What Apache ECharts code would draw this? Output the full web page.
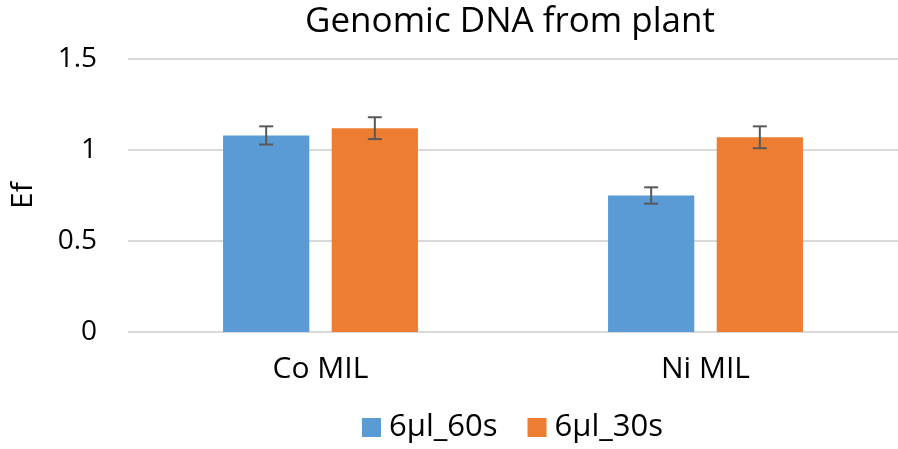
<!DOCTYPE html>
<html>
<head>
<meta charset="utf-8">
<script src="https://cdn.jsdelivr.net/npm/echarts@6/dist/echarts.min.js"></script>
<style>
  html, body { margin: 0; padding: 0; background: #fff; }
  #chart { width: 898px; height: 449px; }
</style>
</head>
<body>
<div id="chart"></div>
<script>
const categories = ['Co MIL', 'Ni MIL'];
const seriesNames = ['6µl_60s', '6µl_30s'];
const values60 = [1.08, 0.75];
const values30 = [1.12, 1.07];
const err60 = [0.05, 0.045];
const err30 = [0.06, 0.06];

const FONT = '"Open Sans", "Noto Sans", sans-serif';
const BAR_FRAC = 0.224;
const GAP_FRAC = 0.26;

// error bar drawn over a bar, side = -1 (left bar) or 1 (right bar)
function errorBars(vals, errs, side) {
  return {
    type: 'custom',
    z: 10,
    silent: true,
    data: vals.map((v, i) => [i, v, errs[i]]),
    renderItem: function (params, api) {
      const i = api.value(0);
      const v = api.value(1);
      const e = api.value(2);
      const catW = api.size([1, 0])[0];
      const bw = catW * BAR_FRAC;
      const off = side * (bw + bw * GAP_FRAC) / 2;
      const top = api.coord([i, v + e]);
      const bot = api.coord([i, v - e]);
      const x = top[0] + off;
      const cap = 7;
      const style = { stroke: '#595959', lineWidth: 2 };
      return {
        type: 'group',
        children: [
          { type: 'line', shape: { x1: x, y1: top[1], x2: x, y2: bot[1] }, style: style },
          { type: 'line', shape: { x1: x - cap, y1: top[1], x2: x + cap, y2: top[1] }, style: style },
          { type: 'line', shape: { x1: x - cap, y1: bot[1], x2: x + cap, y2: bot[1] }, style: style }
        ]
      };
    }
  };
}

const chart = echarts.init(document.getElementById('chart'));
chart.setOption({
  animation: false,
  textStyle: { fontFamily: FONT },
  title: {
    text: 'Genomic DNA from plant',
    left: 505, textAlign: 'center', top: 0,
    textStyle: { fontFamily: FONT, fontSize: 35, fontWeight: 'normal', color: '#000' }
  },
  legend: {
    bottom: 1,
    left: 357,
    itemWidth: 19, itemHeight: 19, itemGap: 30,
    icon: 'rect',
    textStyle: { fontFamily: FONT, fontSize: 31, color: '#000', padding: [0, 0, 0, 3] },
    data: seriesNames
  },
  grid: { left: 123, right: 0, top: 59, bottom: 117 },
  xAxis: {
    type: 'category',
    data: categories,
    axisLine: { show: false },
    axisTick: { show: false },
    axisLabel: { fontFamily: FONT, fontSize: 30, color: '#000', margin: 22 }
  },
  yAxis: {
    type: 'value',
    min: 0, max: 1.5, interval: 0.5,
    name: 'Ef',
    nameLocation: 'middle',
    nameGap: 90,
    nameTextStyle: { fontFamily: FONT, fontSize: 30, color: '#000' },
    axisLabel: { fontFamily: FONT, fontSize: 28, color: '#000', margin: 31 },
    splitLine: { lineStyle: { color: '#d9d9d9', width: 2 } }
  },
  series: [
    {
      name: seriesNames[0], type: 'bar', data: values60,
      barWidth: (BAR_FRAC * 100) + '%', barGap: (GAP_FRAC * 100) + '%',
      itemStyle: { color: '#5b9bd5' }
    },
    {
      name: seriesNames[1], type: 'bar', data: values30,
      barWidth: (BAR_FRAC * 100) + '%', barGap: (GAP_FRAC * 100) + '%',
      itemStyle: { color: '#ed7d31' }
    },
    errorBars(values60, err60, -1),
    errorBars(values30, err30, 1)
  ]
});
</script>
</body>
</html>
